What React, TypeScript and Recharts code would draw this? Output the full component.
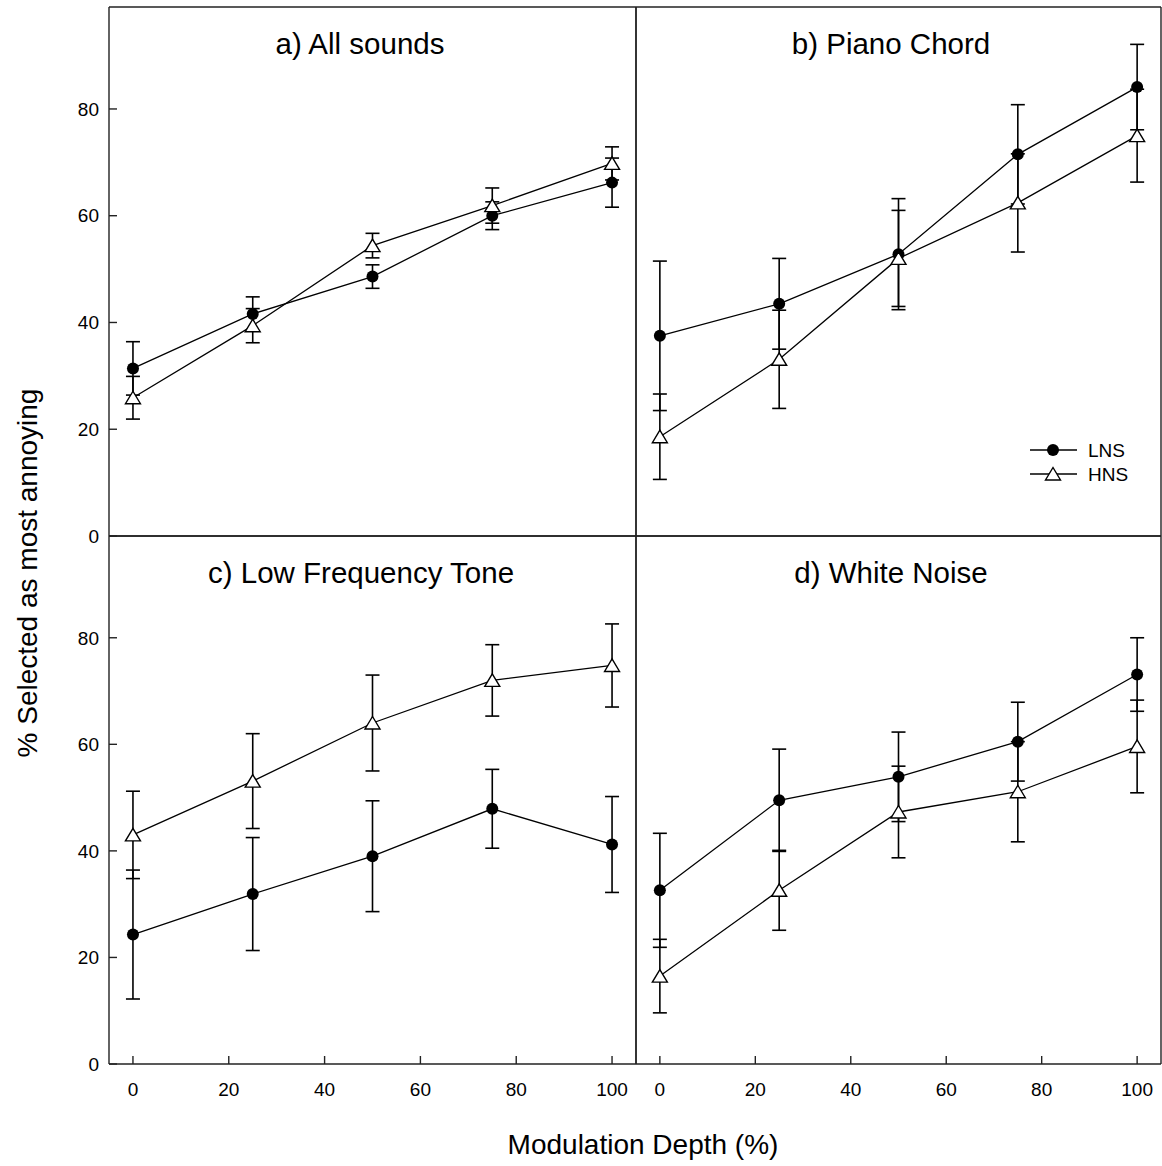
import React from "react";
import { LineChart, Line, XAxis, YAxis, ErrorBar } from "recharts";

const depths = [0, 25, 50, 75, 100];
const xTicks = [0, 20, 40, 60, 80, 100];
const yTicks = [0, 20, 40, 60, 80];
const seriesNames = ["LNS", "HNS"];

const allLns = [31.4, 41.6, 48.6, 60.0, 66.2];
const allLnsErr = [5.0, 3.2, 2.2, 2.6, 4.6];
const allHns = [25.9, 39.4, 54.4, 61.9, 69.8];
const allHnsErr = [4.0, 3.2, 2.3, 3.3, 3.1];

const pianoLns = [37.5, 43.5, 52.8, 71.5, 84.1];
const pianoLnsErr = [14.0, 8.5, 10.4, 9.3, 8.0];
const pianoHns = [18.6, 33.1, 52.0, 62.4, 75.0];
const pianoHnsErr = [8.0, 9.2, 9.0, 9.2, 8.7];

const lowLns = [24.3, 31.9, 39.0, 47.9, 41.2];
const lowLnsErr = [12.1, 10.6, 10.4, 7.4, 9.0];
const lowHns = [43.0, 53.1, 64.0, 72.0, 74.8];
const lowHnsErr = [8.2, 8.9, 9.0, 6.7, 7.8];

const noiseLns = [32.6, 49.5, 53.9, 60.5, 73.1];
const noiseLnsErr = [10.7, 9.6, 8.4, 7.4, 6.9];
const noiseHns = [16.5, 32.6, 47.3, 51.1, 59.6];
const noiseHnsErr = [6.9, 7.5, 8.6, 9.4, 8.7];

const FONT = '"Liberation Sans", Arial, Helvetica, sans-serif';
const AXIS = "#222";
const YW = 60;
const RW = 10;
const TH = 10;
const BH = 45;

function CircleDot(p: any) {
  if (p.cx == null || p.cy == null) return <g key={p.index} />;
  return <circle key={p.index} cx={p.cx} cy={p.cy} r={6} fill="#000" />;
}

function TriangleDot(p: any) {
  if (p.cx == null || p.cy == null) return <g key={p.index} />;
  const { cx, cy } = p;
  return (
    <path
      key={p.index}
      d={`M${cx},${cy - 6.5} L${cx + 7.5},${cy + 6} L${cx - 7.5},${cy + 6} Z`}
      fill="#fff"
      stroke="#000"
      strokeWidth={1.4}
    />
  );
}

type PanelProps = {
  rect: { x: number; y: number; w: number; h: number };
  lns: number[];
  lnsErr: number[];
  hns: number[];
  hnsErr: number[];
  xLabels: boolean;
  yLabels: boolean;
  topTicks: boolean;
  rightTicks: boolean;
};

function Panel({ rect, lns, lnsErr, hns, hnsErr, xLabels, yLabels, topTicks, rightTicks }: PanelProps) {
  const data = depths.map((x, i) => ({
    x,
    lns: lns[i],
    lnsErr: lnsErr[i],
    hns: hns[i],
    hnsErr: hnsErr[i],
  }));
  const tickStyle = { fill: "#000", fontSize: 19, fontFamily: FONT };
  return (
    <div style={{ position: "absolute", left: rect.x - YW, top: rect.y - TH }}>
      <LineChart
        width={YW + rect.w + RW}
        height={TH + rect.h + BH}
        data={data}
        margin={{ top: 0, right: 0, bottom: 0, left: 0 }}
      >
        <XAxis
          xAxisId="b"
          dataKey="x"
          type="number"
          domain={[-5, 105]}
          ticks={xTicks}
          interval={0}
          allowDataOverflow
          orientation="bottom"
          height={BH}
          tickSize={-8}
          tickMargin={27}
          tick={xLabels ? tickStyle : false}
          stroke={AXIS}
          strokeWidth={1.4}
        />
        <XAxis
          xAxisId="t"
          type="number"
          domain={[-5, 105]}
          ticks={xTicks}
          interval={0}
          allowDataOverflow
          orientation="top"
          height={TH}
          tickSize={-7}
          tickLine={topTicks}
          tick={false}
          stroke={AXIS}
          strokeWidth={1.4}
        />
        <YAxis
          yAxisId="l"
          type="number"
          domain={[0, 99.1]}
          ticks={yTicks}
          interval={0}
          allowDataOverflow
          width={YW}
          tickSize={-8}
          tickMargin={18}
          tick={yLabels ? tickStyle : false}
          stroke={AXIS}
          strokeWidth={1.4}
        />
        <YAxis
          yAxisId="r"
          orientation="right"
          type="number"
          domain={[0, 99.1]}
          ticks={yTicks}
          interval={0}
          allowDataOverflow
          width={RW}
          tickSize={-7}
          tickLine={rightTicks}
          tick={false}
          stroke={AXIS}
          strokeWidth={1.4}
        />
        <Line
          xAxisId="b"
          yAxisId="l"
          name={seriesNames[0]}
          dataKey="lns"
          stroke="#000"
          strokeWidth={1.3}
          dot={CircleDot}
          isAnimationActive={false}
        >
          <ErrorBar dataKey="lnsErr" direction="y" width={7} stroke="#000" strokeWidth={1.6} isAnimationActive={false} />
        </Line>
        <Line
          xAxisId="b"
          yAxisId="l"
          name={seriesNames[1]}
          dataKey="hns"
          stroke="#000"
          strokeWidth={1.3}
          dot={TriangleDot}
          isAnimationActive={false}
        >
          <ErrorBar dataKey="hnsErr" direction="y" width={7} stroke="#000" strokeWidth={1.6} isAnimationActive={false} />
        </Line>
      </LineChart>
    </div>
  );
}

function Title({ text, cx, baseline }: { text: string; cx: number; baseline: number }) {
  return (
    <div
      style={{
        position: "absolute",
        left: cx,
        top: baseline - 25,
        transform: "translateX(-50%)",
        fontFamily: FONT,
        fontSize: 29.5,
        lineHeight: "29px",
        whiteSpace: "nowrap",
        color: "#000",
      }}
    >
      {text}
    </div>
  );
}

function LegendBox() {
  const rows = [
    { name: seriesNames[0], y: 450, marker: "circle" },
    { name: seriesNames[1], y: 474, marker: "triangle" },
  ];
  return (
    <div style={{ position: "absolute", left: 1026, top: 436, width: 110, height: 52 }}>
      <svg width={110} height={52} style={{ position: "absolute", left: 0, top: 0 }}>
        {rows.map((r) => {
          const y = r.y - 436;
          return (
            <g key={r.name}>
              <line x1={4} x2={51} y1={y} y2={y} stroke="#000" strokeWidth={1.3} />
              {r.marker === "circle" ? (
                <circle cx={27} cy={y} r={6} fill="#000" />
              ) : (
                <path d={`M27,${y - 6.5} L34.5,${y + 6} L19.5,${y + 6} Z`} fill="#fff" stroke="#000" strokeWidth={1.4} />
              )}
              <text x={62} y={y + 7} fontFamily={FONT} fontSize={19} fill="#000">
                {r.name}
              </text>
            </g>
          );
        })}
      </svg>
    </div>
  );
}

export default function App() {
  return (
    <div style={{ position: "absolute", left: 0, top: 0, width: 1162, height: 1166, background: "#fff" }}>
      <Panel
        rect={{ x: 109, y: 7, w: 527, h: 529 }}
        lns={allLns}
        lnsErr={allLnsErr}
        hns={allHns}
        hnsErr={allHnsErr}
        xLabels={false}
        yLabels={true}
        topTicks={false}
        rightTicks={true}
      />
      <Panel
        rect={{ x: 636, y: 7, w: 525, h: 529 }}
        lns={pianoLns}
        lnsErr={pianoLnsErr}
        hns={pianoHns}
        hnsErr={pianoHnsErr}
        xLabels={false}
        yLabels={false}
        topTicks={false}
        rightTicks={false}
      />
      <Panel
        rect={{ x: 109, y: 536, w: 527, h: 528 }}
        lns={lowLns}
        lnsErr={lowLnsErr}
        hns={lowHns}
        hnsErr={lowHnsErr}
        xLabels={true}
        yLabels={true}
        topTicks={true}
        rightTicks={true}
      />
      <Panel
        rect={{ x: 636, y: 536, w: 525, h: 528 }}
        lns={noiseLns}
        lnsErr={noiseLnsErr}
        hns={noiseHns}
        hnsErr={noiseHnsErr}
        xLabels={true}
        yLabels={false}
        topTicks={true}
        rightTicks={false}
      />
      <Title text="a) All sounds" cx={360} baseline={54} />
      <Title text="b) Piano Chord" cx={891} baseline={54} />
      <Title text="c) Low Frequency Tone" cx={361} baseline={583} />
      <Title text="d) White Noise" cx={891} baseline={583} />
      <LegendBox />
      <div
        style={{
          position: "absolute",
          left: 28,
          top: 573,
          transform: "translate(-50%, -50%) rotate(-90deg)",
          fontFamily: FONT,
          fontSize: 28,
          lineHeight: "30px",
          whiteSpace: "nowrap",
          color: "#000",
        }}
      >
        % Selected as most annoying
      </div>
      <div
        style={{
          position: "absolute",
          left: 643,
          top: 1131,
          transform: "translateX(-50%)",
          fontFamily: FONT,
          fontSize: 28,
          lineHeight: "28px",
          whiteSpace: "nowrap",
          color: "#000",
        }}
      >
        Modulation Depth (%)
      </div>
    </div>
  );
}
